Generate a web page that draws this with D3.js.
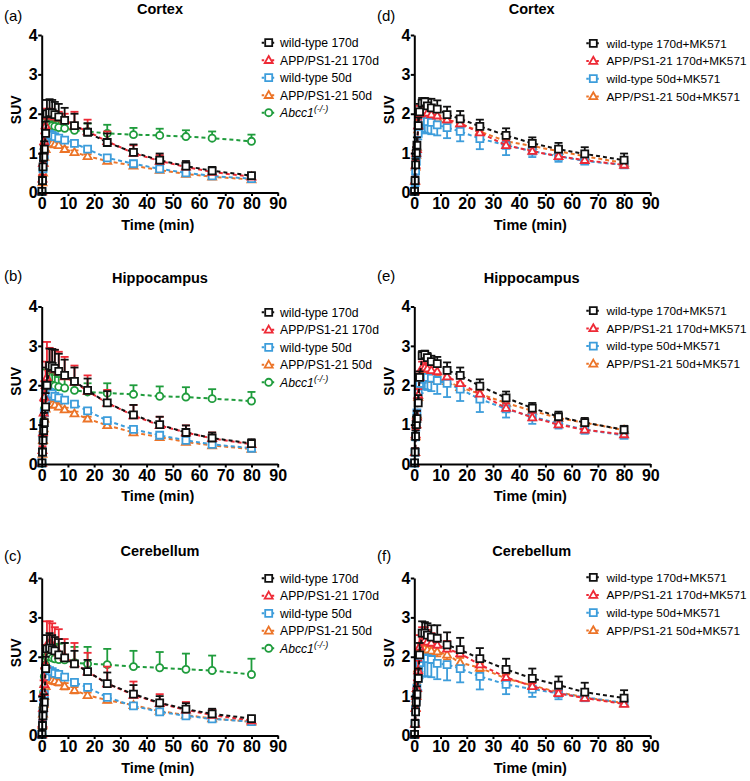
<!DOCTYPE html>
<html><head><meta charset="utf-8">
<script src="https://cdn.jsdelivr.net/npm/d3@7"></script>
<style>body{margin:0;background:#fff}svg{display:block;font-family:"Liberation Sans",Arial,sans-serif}</style>
</head><body><svg id="c" width="750" height="781"></svg>
<script>
// ---- data ----
const times = [0.1, 0.3, 0.5, 0.75, 1, 1.5, 2, 3, 4, 5, 6.5, 8.75, 12.5, 17.5, 25, 35, 45, 55, 65, 80];
const xTicks = [0,10,20,30,40,50,60,70,80,90];
const yTicks = [0,1,2,3,4];
const panelIds = ["(a)","(b)","(c)","(d)","(e)","(f)"];
const panelTitles = ["Cortex","Hippocampus","Cerebellum","Cortex","Hippocampus","Cerebellum"];
const leftLabels = ["wild-type 170d","APP/PS1-21 170d","wild-type 50d","APP/PS1-21 50d","Abcc1"];
const rightLabels = ["wild-type 170d+MK571","APP/PS1-21 170d+MK571","wild-type 50d+MK571","APP/PS1-21 50d+MK571"];

// (a) Cortex
const a_wt170 = [0.03,0.3,0.65,0.9,1.1,1.5,2.0,2.03,2.02,1.98,1.92,1.83,1.7,1.53,1.27,1.02,0.82,0.67,0.55,0.43];
const a_wt170_sd = [0.02,0.1,0.15,0.2,0.2,0.3,0.35,0.34,0.33,0.32,0.33,0.32,0.3,0.23,0.23,0.2,0.17,0.13,0.1,0.07];
const a_app170 = [0.03,0.35,0.75,1.05,1.3,1.7,1.95,1.98,1.95,1.92,1.9,1.85,1.7,1.55,1.3,1.0,0.8,0.65,0.52,0.4];
const a_app170_sd = [0.02,0.1,0.15,0.15,0.2,0.2,0.18,0.15,0.15,0.15,0.15,0.15,0.35,0.3,0.25,0.2,0.15,0.12,0.1,0.07];
const a_wt50 = [0.02,0.3,0.6,0.8,0.95,1.3,1.45,1.48,1.45,1.42,1.38,1.33,1.25,1.1,0.88,0.73,0.6,0.5,0.42,0.35];
const a_wt50_sd = [0.02,0.05,0.06,0.06,0.06,0.07,0.07,0.07,0.07,0.06,0.06,0.06,0.06,0.05,0.05,0.05,0.04,0.04,0.04,0.04];
const a_app50 = [0.02,0.25,0.5,0.75,0.9,1.1,1.25,1.27,1.25,1.22,1.2,1.1,1.02,0.92,0.8,0.68,0.57,0.47,0.4,0.33];
const a_app50_sd = [0.02,0.05,0.05,0.05,0.05,0.06,0.06,0.06,0.06,0.06,0.06,0.05,0.05,0.05,0.05,0.04,0.04,0.04,0.04,0.03];
const a_abcc = [0.02,0.3,0.6,0.9,1.2,1.55,1.75,1.72,1.7,1.68,1.65,1.63,1.58,1.55,1.5,1.47,1.45,1.42,1.38,1.3];
const a_abcc_sd = [0.02,0.05,0.1,0.1,0.1,0.12,0.12,0.12,0.12,0.15,0.15,0.15,0.17,0.2,0.22,0.17,0.17,0.16,0.17,0.17];

// (b) Hippocampus
const b_wt170 = [0.03,0.3,0.6,0.85,1.05,1.45,2.0,2.5,2.48,2.43,2.35,2.25,2.1,1.87,1.55,1.25,1.0,0.8,0.66,0.52];
const b_wt170_sd = [0.02,0.1,0.15,0.2,0.25,0.35,0.45,0.43,0.44,0.47,0.45,0.4,0.35,0.3,0.3,0.25,0.2,0.18,0.14,0.11];
const b_app170 = [0.03,0.35,0.8,1.3,1.7,2.0,2.2,2.45,2.45,2.4,2.35,2.22,2.08,1.85,1.55,1.23,0.98,0.8,0.65,0.5];
const b_app170_sd = [0.02,0.1,0.2,0.3,0.4,0.6,0.9,0.5,0.47,0.5,0.5,0.5,0.42,0.4,0.33,0.27,0.22,0.18,0.15,0.1];
const b_wt50 = [0.02,0.3,0.7,1.0,1.3,1.6,1.85,1.82,1.78,1.72,1.68,1.62,1.52,1.35,1.1,0.88,0.73,0.6,0.5,0.4];
const b_wt50_sd = [0.02,0.05,0.06,0.06,0.07,0.07,0.07,0.07,0.07,0.07,0.06,0.06,0.06,0.05,0.05,0.05,0.04,0.04,0.04,0.04];
const b_app50 = [0.02,0.25,0.6,0.9,1.15,1.4,1.57,1.55,1.52,1.5,1.45,1.38,1.28,1.15,0.98,0.8,0.68,0.56,0.47,0.38];
const b_app50_sd = [0.02,0.05,0.05,0.05,0.06,0.06,0.06,0.06,0.06,0.06,0.06,0.05,0.05,0.05,0.05,0.04,0.04,0.04,0.04,0.03];
const b_abcc = [0.02,0.3,0.7,1.1,1.4,1.6,2.05,2.02,2.0,1.98,1.96,1.93,1.87,1.83,1.8,1.77,1.72,1.7,1.66,1.6];
const b_abcc_sd = [0.02,0.05,0.1,0.15,0.2,0.3,0.35,0.33,0.3,0.28,0.25,0.25,0.22,0.22,0.25,0.23,0.25,0.25,0.24,0.23];

// (c) Cerebellum
const c_wt170 = [0.03,0.25,0.5,0.7,0.85,1.7,2.2,2.22,2.18,2.15,2.05,1.97,1.82,1.62,1.32,1.05,0.83,0.67,0.55,0.43];
const c_wt170_sd = [0.02,0.1,0.15,0.2,0.2,0.3,0.35,0.38,0.37,0.35,0.4,0.38,0.33,0.3,0.28,0.23,0.17,0.15,0.13,0.07];
const c_app170 = [0.03,0.3,0.7,1.1,1.3,1.8,2.3,2.35,2.3,2.2,2.1,2.0,1.83,1.62,1.32,1.03,0.82,0.65,0.52,0.38];
const c_app170_sd = [0.02,0.1,0.2,0.3,0.4,0.5,0.6,0.55,0.55,0.55,0.6,0.45,0.52,0.48,0.43,0.34,0.23,0.2,0.13,0.07];
const c_wt50 = [0.02,0.3,0.6,0.85,1.05,1.5,1.68,1.65,1.62,1.58,1.55,1.48,1.35,1.22,0.97,0.75,0.6,0.5,0.42,0.35];
const c_wt50_sd = [0.02,0.05,0.06,0.06,0.06,0.07,0.07,0.07,0.07,0.06,0.06,0.06,0.06,0.05,0.05,0.05,0.04,0.04,0.04,0.04];
const c_app50 = [0.02,0.25,0.55,0.8,1.0,1.25,1.43,1.42,1.4,1.38,1.35,1.25,1.15,1.02,0.9,0.77,0.62,0.52,0.43,0.35];
const c_app50_sd = [0.02,0.05,0.06,0.07,0.08,0.08,0.08,0.08,0.08,0.08,0.08,0.08,0.08,0.07,0.06,0.05,0.05,0.04,0.04,0.04];
const c_abcc = [0.02,0.3,0.7,1.1,1.5,1.8,2.0,2.0,1.97,1.95,1.93,1.92,1.85,1.82,1.8,1.75,1.72,1.68,1.65,1.55];
const c_abcc_sd = [0.02,0.05,0.1,0.15,0.2,0.25,0.3,0.3,0.32,0.35,0.4,0.43,0.4,0.43,0.4,0.4,0.4,0.4,0.38,0.4];

// (d) Cortex + MK571
const d_wt170 = [0.03,0.3,0.7,1.0,1.2,1.7,2.05,2.27,2.3,2.2,2.15,2.12,1.98,1.87,1.68,1.45,1.25,1.1,0.98,0.82];
const d_wt170_sd = [0.02,0.1,0.15,0.15,0.2,0.2,0.2,0.13,0.1,0.18,0.23,0.22,0.2,0.2,0.17,0.18,0.15,0.16,0.17,0.17];
const d_app170 = [0.03,0.3,0.7,1.0,1.1,1.7,2.0,2.1,2.08,2.02,1.98,1.95,1.85,1.75,1.52,1.2,1.05,0.92,0.82,0.7];
const d_app170_sd = [0.02,0.1,0.1,0.15,0.15,0.15,0.2,0.2,0.2,0.18,0.15,0.15,0.13,0.12,0.12,0.12,0.1,0.1,0.08,0.08];
const d_wt50 = [0.02,0.25,0.55,0.8,1.0,1.5,1.7,1.8,1.82,1.8,1.78,1.72,1.65,1.55,1.37,1.2,1.05,0.92,0.8,0.7];
const d_wt50_sd = [0.02,0.05,0.1,0.1,0.1,0.15,0.2,0.25,0.3,0.3,0.3,0.27,0.27,0.25,0.27,0.25,0.15,0.14,0.08,0.08];
const d_app50 = [0.02,0.3,0.65,0.95,1.15,1.6,1.85,1.95,1.95,1.93,1.9,1.88,1.85,1.75,1.55,1.3,1.18,1.05,0.92,0.75];
const d_app50_sd = [0.02,0.05,0.06,0.07,0.08,0.08,0.08,0.08,0.08,0.08,0.08,0.08,0.08,0.07,0.07,0.06,0.06,0.05,0.05,0.05];

// (e) Hippocampus + MK571
const e_wt170 = [0.03,0.3,0.7,1.0,1.15,1.55,2.2,2.75,2.78,2.7,2.6,2.55,2.38,2.25,1.98,1.68,1.42,1.2,1.05,0.87];
const e_wt170_sd = [0.02,0.1,0.15,0.2,0.2,0.2,0.15,0.12,0.1,0.12,0.15,0.17,0.2,0.2,0.17,0.16,0.13,0.13,0.12,0.1];
const e_app170 = [0.03,0.3,0.75,1.0,1.2,1.75,2.2,2.45,2.45,2.42,2.38,2.35,2.22,2.05,1.78,1.42,1.18,1.0,0.87,0.75];
const e_app170_sd = [0.02,0.1,0.12,0.15,0.15,0.15,0.15,0.15,0.15,0.14,0.14,0.14,0.13,0.13,0.13,0.12,0.12,0.1,0.1,0.08];
const e_wt50 = [0.02,0.3,0.7,1.0,1.3,1.8,2.05,2.15,2.2,2.2,2.18,2.12,2.05,1.9,1.65,1.4,1.2,1.03,0.87,0.73];
const e_wt50_sd = [0.02,0.05,0.1,0.15,0.2,0.25,0.25,0.25,0.3,0.32,0.33,0.34,0.35,0.3,0.33,0.22,0.18,0.13,0.1,0.07];
const e_app50 = [0.02,0.3,0.7,1.0,1.25,1.7,2.0,2.2,2.22,2.2,2.18,2.15,2.1,1.95,1.78,1.55,1.35,1.17,1.05,0.86];
const e_app50_sd = [0.02,0.05,0.07,0.08,0.1,0.1,0.1,0.1,0.1,0.1,0.1,0.1,0.1,0.1,0.09,0.08,0.07,0.06,0.06,0.05];

// (f) Cerebellum + MK571
const f_wt170 = [0.03,0.3,0.6,0.85,1.05,1.45,2.05,2.6,2.6,2.55,2.5,2.47,2.3,2.18,1.95,1.68,1.45,1.28,1.1,0.95];
const f_wt170_sd = [0.02,0.1,0.15,0.15,0.2,0.25,0.3,0.3,0.28,0.3,0.3,0.33,0.32,0.3,0.27,0.27,0.25,0.22,0.24,0.2];
const f_app170 = [0.03,0.3,0.7,1.0,1.2,1.65,2.25,2.4,2.42,2.38,2.35,2.3,2.2,2.08,1.8,1.48,1.25,1.07,0.95,0.8];
const f_app170_sd = [0.02,0.1,0.15,0.2,0.2,0.25,0.3,0.35,0.33,0.3,0.25,0.2,0.2,0.15,0.12,0.1,0.08,0.07,0.06,0.05];
const f_wt50 = [0.02,0.3,0.65,0.95,1.2,1.45,1.85,1.95,1.97,1.95,1.93,1.83,1.8,1.7,1.5,1.3,1.18,1.07,0.97,0.83];
const f_wt50_sd = [0.02,0.05,0.1,0.15,0.2,0.3,0.4,0.45,0.47,0.45,0.45,0.4,0.4,0.35,0.33,0.25,0.2,0.15,0.1,0.05];
const f_app50 = [0.02,0.3,0.7,1.0,1.2,1.7,2.05,2.2,2.2,2.18,2.15,2.13,2.05,1.85,1.72,1.45,1.27,1.1,0.97,0.82];
const f_app50_sd = [0.02,0.05,0.08,0.1,0.12,0.12,0.12,0.12,0.12,0.12,0.12,0.12,0.12,0.12,0.1,0.1,0.08,0.07,0.06,0.05];

// ---- styles ----
const colors = ["#111111","#ee2a36","#3d9ddb","#ec7428","#1f9c3c"];
const shapes = ["square","triangle","square","triangle","circle"];
const leftErrDir = ["up","up","both","both","up"];
const rightErrDir = ["up","up","down","both"];

const panelSeries = [
  [[a_wt170,a_wt170_sd],[a_app170,a_app170_sd],[a_wt50,a_wt50_sd],[a_app50,a_app50_sd],[a_abcc,a_abcc_sd]],
  [[b_wt170,b_wt170_sd],[b_app170,b_app170_sd],[b_wt50,b_wt50_sd],[b_app50,b_app50_sd],[b_abcc,b_abcc_sd]],
  [[c_wt170,c_wt170_sd],[c_app170,c_app170_sd],[c_wt50,c_wt50_sd],[c_app50,c_app50_sd],[c_abcc,c_abcc_sd]],
  [[d_wt170,d_wt170_sd],[d_app170,d_app170_sd],[d_wt50,d_wt50_sd],[d_app50,d_app50_sd]],
  [[e_wt170,e_wt170_sd],[e_app170,e_app170_sd],[e_wt50,e_wt50_sd],[e_app50,e_app50_sd]],
  [[f_wt170,f_wt170_sd],[f_app170,f_app170_sd],[f_wt50,f_wt50_sd],[f_app50,f_app50_sd]]
];

// ---- layout ----
const colX = [41.7, 414.3];
const plotW = 236;
const rowTop = [35, 306.5, 578];
const plotH = 157.5;
const titleBase = [13.5, 283, 556];
const idBase = [21, 281, 561];
const idX = [4, 377];
const titleX = [160, 531.7];
const legY = [42.7, 312.3, 578.3, 43.3, 310.7, 577.3];
const legMarkX = [268.7, 593.3];
const legTextX = [280, 606.5];
const legStep = [17.5, 17.7];
const legFont = ["12.2px","11.8px"];

const svg = d3.select("#c");
const font = '"Liberation Sans",Arial,sans-serif';

function markerPath(shape){
  if(shape==="square") return "M-3.5,-3.5H3.5V3.5H-3.5Z";
  if(shape==="triangle") return "M0,-4.2L4,2.8H-4Z";
  return d3.symbol(d3.symbolCircle, 40)();
}

for(let p=0;p<6;p++){
  const col = p<3?0:1, row = p%3;
  const x0 = colX[col], y0 = rowTop[row];
  const g = svg.append("g").attr("transform",`translate(${x0},${y0})`);
  const x = d3.scaleLinear().domain([0,90]).range([0,plotW]);
  const y = d3.scaleLinear().domain([0,4]).range([plotH,0]);
  const series = panelSeries[p];
  const dirs = col===0?leftErrDir:rightErrDir;

  for(let s=series.length-1;s>=0;s--){
    const [mean,sd] = series[s];
    const pts = times.map((t,i)=>({t, m:mean[i], e:sd[i]}));
    const sg = g.append("g");
    const c = colors[s];
    const dir = dirs[s];
    pts.forEach(d=>{
      const lo = dir==="up"? d.m : d.m - d.e;
      const hi = dir==="down"? d.m : d.m + d.e;
      sg.append("line").attr("x1",x(d.t)).attr("x2",x(d.t)).attr("y1",y(lo)).attr("y2",y(hi))
        .attr("stroke",c).attr("stroke-width",1.8);
      if(dir!=="down") sg.append("line").attr("x1",x(d.t)-4).attr("x2",x(d.t)+4).attr("y1",y(hi)).attr("y2",y(hi)).attr("stroke",c).attr("stroke-width",1.8);
      if(dir!=="up") sg.append("line").attr("x1",x(d.t)-4).attr("x2",x(d.t)+4).attr("y1",y(lo)).attr("y2",y(lo)).attr("stroke",c).attr("stroke-width",1.8);
    });
    sg.append("path").datum(pts)
      .attr("d", d3.line().x(d=>x(d.t)).y(d=>y(d.m)))
      .attr("fill","none").attr("stroke",c).attr("stroke-width",2).attr("stroke-dasharray","4,3");
    sg.selectAll("path.m").data(pts).join("path").attr("class","m")
      .attr("transform",d=>`translate(${x(d.t)},${y(d.m)})`)
      .attr("d",markerPath(shapes[s]))
      .attr("fill","#fff").attr("stroke",c).attr("stroke-width",1.8);
  }

  const xa = g.append("g").attr("transform",`translate(0,${plotH})`)
    .call(d3.axisBottom(x).tickValues(xTicks).tickFormat(d3.format("d")).tickSize(3.5).tickPadding(2).tickSizeOuter(0));
  const ya = g.append("g")
    .call(d3.axisLeft(y).tickValues(yTicks).tickFormat(d3.format("d")).tickSize(3.5).tickPadding(0.5).tickSizeOuter(0));
  [xa,ya].forEach(a=>{
    a.select(".domain").attr("stroke","#000").attr("stroke-width",2);
    a.selectAll(".tick line").attr("stroke","#000").attr("stroke-width",2);
    a.selectAll(".tick text").attr("fill","#000").style("font-family",font)
      .style("font-size","16px").style("font-weight","bold");
  });

  g.append("text").attr("x",plotW/2 - 2).attr("y",plotH+37)
    .attr("text-anchor","middle").style("font-family",font).style("font-size","14.5px").style("font-weight","bold")
    .text("Time (min)");
  g.append("text").attr("transform",`translate(-20.3,${plotH/2-4}) rotate(-90)`)
    .attr("text-anchor","middle").style("font-family",font).style("font-size","14px").style("font-weight","bold")
    .text("SUV");

  svg.append("text").attr("x",titleX[col]).attr("y",titleBase[row]).attr("text-anchor","middle")
    .style("font-family",font).style("font-size","14.5px").style("font-weight","bold").text(panelTitles[p]);
  svg.append("text").attr("x",idX[col]).attr("y",idBase[row])
    .style("font-family",font).style("font-size","15px").text(panelIds[p]);

  const labels = col===0?leftLabels:rightLabels;
  labels.forEach((lab,i)=>{
    const ly = legY[p] + i*legStep[col];
    const mx = legMarkX[col];
    svg.append("line").attr("x1",mx-7).attr("x2",mx+7).attr("y1",ly).attr("y2",ly)
      .attr("stroke",colors[i]).attr("stroke-width",2).attr("stroke-dasharray","2.5,2.5");
    svg.append("path").attr("transform",`translate(${mx},${ly})`).attr("d",markerPath(shapes[i]))
      .attr("fill","#fff").attr("stroke",colors[i]).attr("stroke-width",1.8);
    const t = svg.append("text").attr("x",legTextX[col]).attr("y",ly+4.3)
      .style("font-family",font).style("font-size",legFont[col]).attr("fill","#000");
    if(lab==="Abcc1"){
      t.append("tspan").style("font-style","italic").text("Abcc1");
      t.append("tspan").style("font-style","italic").style("font-size","9px").attr("dy",-5).text("(-/-)");
    } else t.text(lab);
  });
}
</script></body></html>
